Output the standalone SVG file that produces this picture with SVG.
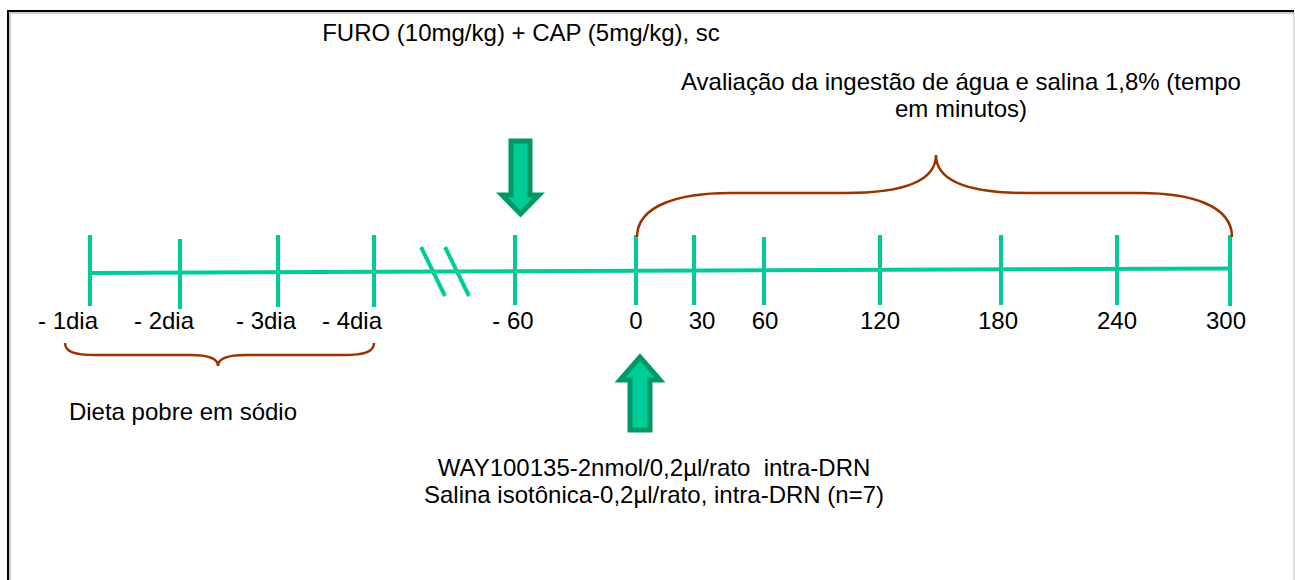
<svg xmlns="http://www.w3.org/2000/svg" width="1295" height="580" viewBox="0 0 1295 580">
<style>
text{font-family:"Liberation Sans",Arial,sans-serif;font-size:24px;fill:#000}
.tl{stroke:#00cc99;stroke-width:4;fill:none}
.br{stroke:#993300;stroke-width:2.5;fill:none}
.ar{fill:#00cc99;stroke:#009966;stroke-width:5;stroke-linejoin:miter}
</style>
<rect width="1295" height="580" fill="#fff"/>
<g id="frame">
<path d="M8 580 V11 H1294" fill="none" stroke="#000" stroke-width="2"/>
<path d="M9 580 V12 H1294" fill="none" stroke="#999" stroke-width="1" transform="translate(1,1)"/>
<line x1="1294" y1="12" x2="1294" y2="580" stroke="#bbb" stroke-width="1"/>
</g>
<g id="connectors">
<path class="tl" d="M90 273 L1230 268.5" stroke-width="5"/>
<line class="tl" x1="90" y1="235" x2="90" y2="306"/>
<line class="tl" x1="180" y1="239" x2="180" y2="309"/>
<line class="tl" x1="278" y1="235" x2="278" y2="307"/>
<line class="tl" x1="374" y1="235" x2="374" y2="307"/>
<line class="tl" x1="515" y1="235" x2="515" y2="305"/>
<line class="tl" x1="636" y1="235" x2="636" y2="305"/>
<line class="tl" x1="694" y1="235" x2="694" y2="305"/>
<line class="tl" x1="764" y1="237" x2="764" y2="305"/>
<line class="tl" x1="880" y1="235" x2="880" y2="305"/>
<line class="tl" x1="1001" y1="235" x2="1001" y2="305"/>
<line class="tl" x1="1117" y1="235" x2="1117" y2="305"/>
<line class="tl" x1="1230" y1="235" x2="1230" y2="306"/>
<line class="tl" x1="421" y1="247" x2="445" y2="296" stroke-width="2"/>
<line class="tl" x1="445" y1="247" x2="469" y2="296" stroke-width="2"/>
<path class="br" d="M637 237 C637 205 680 193 730 193 H845 C905 193 936 180 936 155 C936 180 967 193 1027 193 H1140 C1190 193 1232 205 1232 237"/>
<path class="br" d="M65 343 C65 352 75 355 95 355 H190 C208 355 218 358 218 366 C218 358 228 355 246 355 H344 C364 355 374 352 374 343"/>
</g>
<g id="arrow-down">
<path class="ar" d="M511 141 H530 V195 H539 L520.5 214 L502 195 H511 Z"/>
</g>
<g id="arrow-up">
<path class="ar" d="M630 430 H650 V380 H660 L640 357 L620 380 H630 Z"/>
</g>
<g id="labels">
<text x="521" y="41" text-anchor="middle">FURO (10mg/kg) + CAP (5mg/kg), sc</text>
<text x="961" y="90" text-anchor="middle">Avaliação da ingestão de água e salina 1,8% (tempo</text>
<text x="961" y="117" text-anchor="middle">em minutos)</text>
<text x="68" y="329" text-anchor="middle">- 1dia</text>
<text x="164" y="329" text-anchor="middle">- 2dia</text>
<text x="266" y="329" text-anchor="middle">- 3dia</text>
<text x="352" y="329" text-anchor="middle">- 4dia</text>
<text x="513" y="329" text-anchor="middle">- 60</text>
<text x="636" y="329" text-anchor="middle">0</text>
<text x="702" y="329" text-anchor="middle">30</text>
<text x="765" y="329" text-anchor="middle">60</text>
<text x="880" y="329" text-anchor="middle">120</text>
<text x="998" y="329" text-anchor="middle">180</text>
<text x="1117" y="329" text-anchor="middle">240</text>
<text x="1226" y="329" text-anchor="middle">300</text>
<text x="183" y="420" text-anchor="middle">Dieta pobre em sódio</text>
<text x="654" y="476" text-anchor="middle" xml:space="preserve">WAY100135-2nmol/0,2µl/rato  intra-DRN</text>
<text x="654" y="503" text-anchor="middle">Salina isotônica-0,2µl/rato, intra-DRN (n=7)</text>
</g>
</svg>
